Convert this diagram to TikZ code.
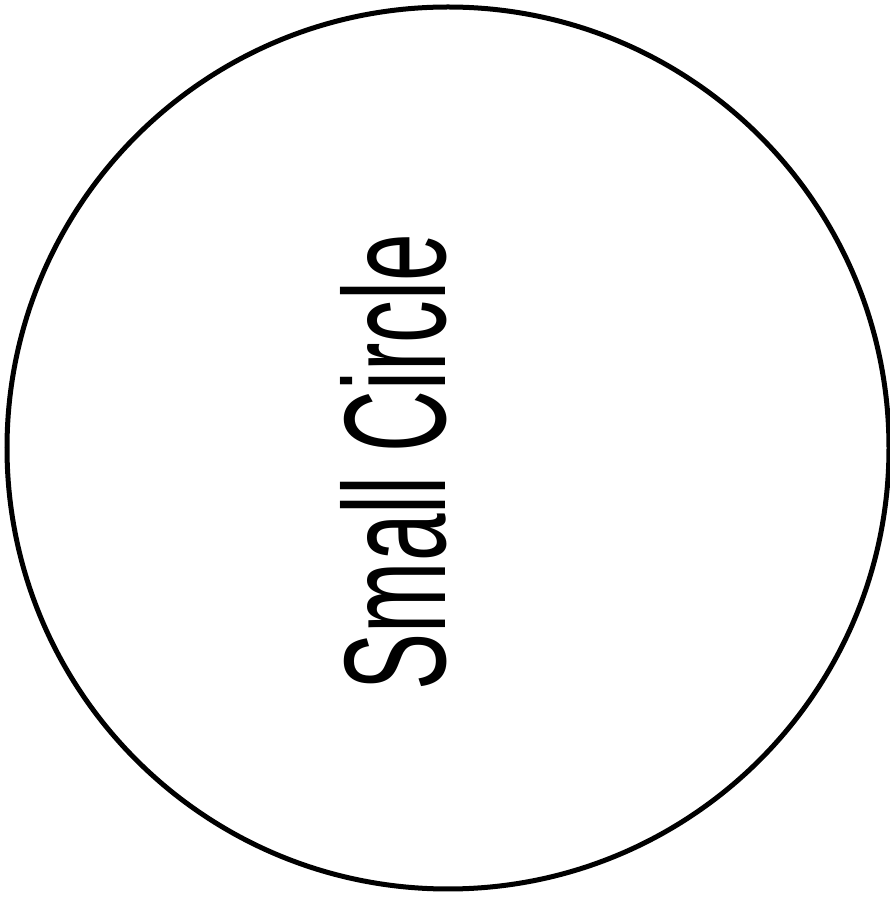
\documentclass[tikz,border=0pt]{standalone}
\usepackage{fontspec}
\setmainfont{Liberation Sans}
\begin{document}
\begin{tikzpicture}[x=1pt,y=1pt,
  ring/.style={draw=black,line width=5pt},
  label/.style={font=\fontsize{145}{150}\selectfont,inner sep=0pt,anchor=base,rotate=90}]
\useasboundingbox (0,0) rectangle (890,903);
\node[ring,circle,minimum size=882pt,inner sep=0pt] (c) at (448,455) {};
\node[label] (t) at (445,441) {\scalebox{0.59}[1]{Small Circle}};
\end{tikzpicture}
\end{document}
